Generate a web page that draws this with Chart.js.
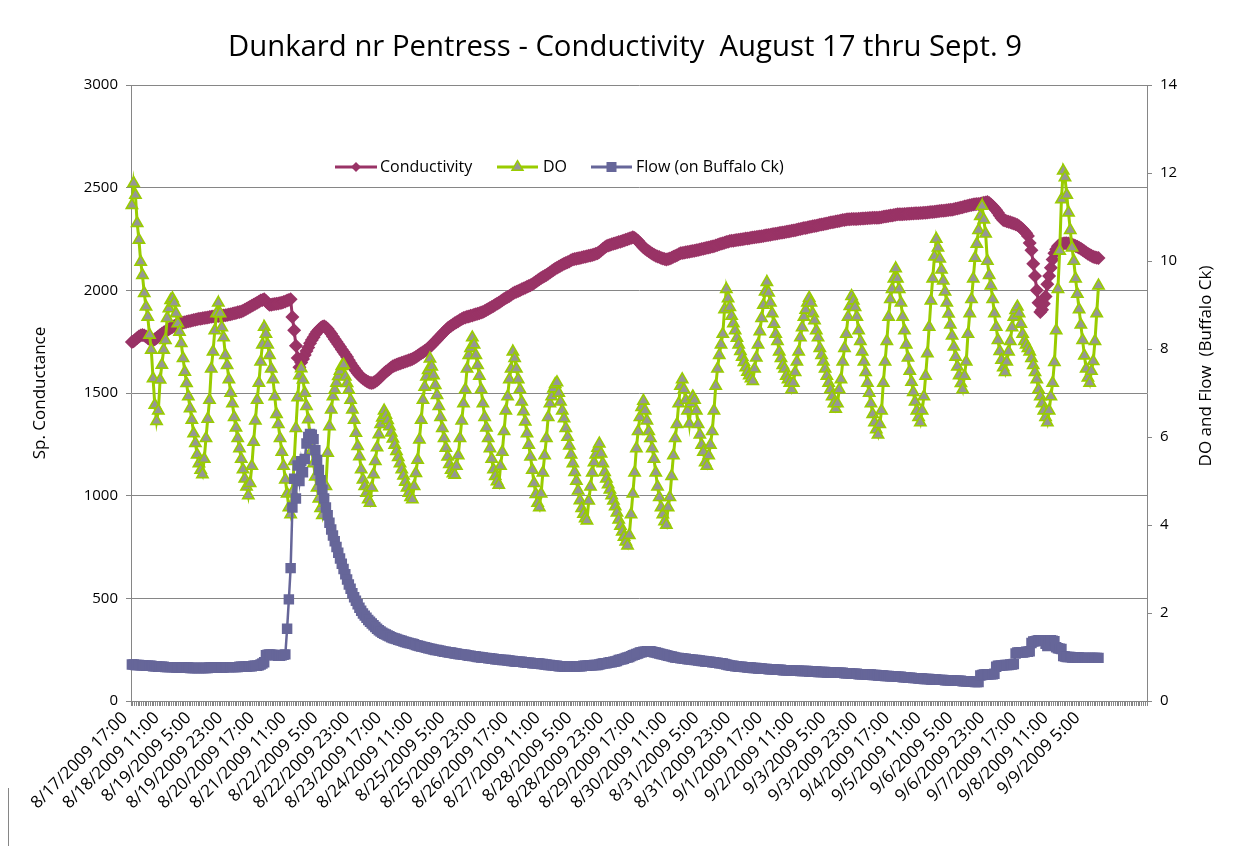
<!DOCTYPE html>
<html>
<head>
<meta charset="utf-8">
<script src="https://cdn.jsdelivr.net/npm/chart.js@4.4.1/dist/chart.umd.min.js"></script>
<style>
  html, body { margin: 0; padding: 0; background: #ffffff; }
  #c { display: block; }
</style>
</head>
<body>
<canvas id="c" width="1238" height="846"></canvas>
<script>
// ---- Data (hourly readings starting 8/17/2009 17:00) ----
const startTime = { year: 2009, month: 8, day: 17, hour: 17 };
const categoryCount = 576;           // hourly categories on the axis
const labelEvery = 18;               // a label every 18 hours
const lastLabelIndex = 540;          // 9/9/2009 5:00

const conductivity = [
  1748,1752,1760,1768,1775,1780,1782,1780,1775,1768,1762,1758,1757,
  1762,1768,1775,1782,1788,1795,1800,1806,1812,1817,1822,1826,1831,
  1834,1837,1840,1843,1845,1847,1849,1851,1853,1855,
  1857,1859,1861,1862,1864,1865,1867,1868,1870,
  1871,1872,1873,1874,1875,1876,1877,1878,1879,1880,
  1882,1884,1886,1888,1890,1893,1895,1897,1900,
  1905,1910,1915,1920,1925,1930,
  1935,1940,1945,1950,1953,1956,
  1948,1938,1930,
  1930,1932,1933,1935,1936,1938,
  1940,1943,1946,1950,1953,1956,
  1870,1805,1730,1670,1625,
  1648,1665,1685,1705,1722,1742,1758,1772,1786,1798,1808,1817,1823,
  1825,1820,1812,1800,1788,1775,1762,1750,1738,1725,1712,1700,
  1688,1675,1660,1645,1632,1620,1608,1597,1587,1578,1571,1565,
  1558,1553,1550,1549,1551,1556,1562,1570,1578,1588,
  1596,1603,1610,1617,1624,1630,
  1634,1638,1641,1644,1647,1650,1653,1656,1659,1662,1665,
  1670,1675,1681,1687,1693,1699,1705,1711,1718,1725,
  1734,1743,1752,1761,1770,1779,1788,1797,1806,1815,
  1822,1828,1834,1840,1845,1850,1855,1860,1865,
  1868,1871,1873,1876,1878,1881,1884,1886,1889,1892,1895,
  1899,1904,1909,1914,1919,1924,1930,1935,
  1940,1946,1952,1958,1963,1968,1973,1979,1985,
  1989,1993,1997,2001,2005,2009,2013,2017,2021,2025,
  2030,2036,2042,2048,2054,2060,2065,2070,2075,
  2081,2087,2093,2099,2105,2110,
  2115,2120,2125,2129,2133,2137,2141,2146,2150,
  2152,2154,2156,2158,2160,2162,2164,2166,2168,2170,2172,2175,2178,2180,
  2187,2194,2201,2208,2215,
  2218,2221,2224,2227,2229,2232,2235,2237,2240,
  2243,2246,2249,2252,2255,2258,
  2255,2248,2240,2230,2220,2210,
  2203,2196,2190,2184,2178,2173,2169,2165,
  2162,2158,2155,2152,2150,
  2152,2155,2159,2163,2167,2171,2176,2180,
  2182,2183,2185,2187,2188,2190,2192,2193,2195,
  2197,2199,2201,2203,2205,2207,2209,2211,2213,2215,
  2218,2221,2224,2227,2229,2232,2235,2237,2240,
  2241,2242,2244,2245,2246,2248,2249,2250,2252,2253,2254,2256,2257,2258,2260,2261,2262,2264,2265,
  2267,2268,2270,2271,2273,2274,2276,2277,2279,2280,2282,2283,2285,2286,2288,2290,2291,2293,2295,
  2297,2299,2301,2303,2304,2306,2308,2310,2312,2313,2315,2317,2319,2321,2322,2324,2326,2328,2330,
  2332,2333,2335,2337,2338,2340,2342,2343,2345,
  2346,2346,2347,2347,2348,2348,2349,2349,2350,2350,2351,2351,2352,2352,2353,2353,2354,2354,2355,
  2356,2358,2359,2361,2362,2364,2365,2367,2368,2370,
  2370,2371,2371,2372,2372,2373,2373,2374,2374,2375,2375,2376,2377,2377,2378,2378,2379,2380,
  2381,2382,2383,2384,2385,2386,2387,2388,2389,2390,2391,2392,2393,2395,2397,2399,2401,2403,2405,2408,2410,
  2412,2414,2416,2418,2419,2420,2421,2422,2424,2426,2428,2430,
  2425,2418,2410,2400,2390,2378,2365,2352,2343,
  2340,2337,2334,2331,2328,2325,2322,2318,2312,2305,2297,2288,2278,2265,
  2230,2195,2130,2070,2000,1940,1895,
  1905,1935,1970,2030,2070,2110,2150,2180,2200,2215,2222,2226,
  2228,2229,2229,2228,2226,2223,2220,2216,2212,2207,2202,2196,2190,2184,2178,2173,2168,2164,2161,2159,2158
];

const dissolvedOxygen = [
  11.27,11.77,11.5,
  10.86,10.48,9.98,9.68,9.27,8.96,8.73,8.32,7.98,7.33,6.73,6.36,
  6.6,
  7.3,7.64,7.98,8.2,8.7,8.92,9.11,9.15,9.05,
  8.81,8.58,8.39,8.13,7.79,7.48,7.22,6.92,6.65,6.39,6.08,5.86,5.6,5.4,5.25,5.15,
  5.5,5.97,6.41,6.84,7.55,7.94,8.42,8.81,9.05,
  8.81,8.49,8.26,7.86,7.63,7.31,7.0,6.76,6.45,6.21,5.97,5.74,5.5,5.26,5.05,4.87,4.67,
  4.95,5.34,5.89,6.37,6.84,7.23,7.71,8.1,8.5,
  8.34,8.1,7.86,7.55,7.31,6.92,6.52,6.29,5.97,5.66,5.34,5.03,4.71,4.4,4.24,
  4.75,5.45,6.2,6.9,7.4,7.56,
  7.3,7.0,6.7,6.4,6.05,5.7,5.4,5.1,4.85,4.6,4.38,4.22,
  4.5,4.88,5.64,6.24,6.62,6.92,7.07,7.23,7.38,7.5,7.61,7.64,
  7.37,7.22,7.07,6.84,6.62,6.39,6.09,5.79,5.56,5.26,5.03,4.88,4.73,4.58,4.5,
  4.85,5.15,5.45,5.76,6.06,6.29,6.44,6.6,
  6.5,6.38,6.24,6.1,5.96,5.82,5.68,5.54,5.4,5.26,5.12,4.98,4.85,4.73,4.63,4.58,
  4.88,5.18,5.48,5.94,6.39,6.84,7.14,7.37,7.52,7.78,
  7.6,7.4,7.18,6.95,6.7,6.45,6.2,5.97,5.75,5.55,5.38,5.25,5.17,5.14,
  5.34,5.58,5.97,6.37,6.76,7.08,7.55,7.86,8.02,8.26,
  8.1,7.86,7.63,7.39,7.08,6.76,6.45,6.21,5.97,5.74,5.5,5.26,5.11,4.99,4.91,
  5.34,5.66,6.13,6.6,6.92,7.31,7.55,7.94,
  7.79,7.55,7.31,7.08,6.8,6.58,6.35,6.08,5.82,5.55,5.25,4.95,4.7,4.5,4.4,
  4.71,5.19,5.58,5.97,6.45,6.76,6.92,7.1,7.2,7.24,
  7.0,6.8,6.6,6.42,6.2,6.0,5.8,5.6,5.4,5.2,5.0,4.78,4.56,4.38,4.25,4.15,4.1,
  4.55,4.87,5.19,5.42,5.6,5.75,5.85,
  5.62,5.4,5.2,5.05,4.92,4.8,4.67,4.55,4.42,4.28,4.12,3.98,3.85,3.73,3.62,3.53,
  3.77,4.24,4.71,5.19,5.74,6.13,6.45,6.68,6.82,
  6.6,6.37,6.13,5.97,5.74,5.5,5.19,4.87,4.63,4.4,4.24,4.08,4.0,
  4.4,4.63,5.11,5.58,5.97,6.29,6.76,7.16,7.31,
  7.08,6.84,6.6,6.3,6.76,6.92,6.84,6.6,6.29,6.05,5.82,5.66,5.42,5.34,
  5.58,5.82,6.13,6.6,7.16,7.55,7.86,8.1,8.34,8.9,9.36,
  9.15,8.95,8.75,8.58,8.42,8.25,8.1,7.95,7.82,7.7,7.58,7.48,7.4,7.33,7.27,
  7.55,7.8,8.1,8.4,8.7,9.0,9.3,9.52,
  9.28,9.05,8.81,8.57,8.34,8.18,7.94,7.79,7.63,7.55,7.39,7.31,7.23,7.08,
  7.23,7.47,7.71,7.94,8.26,8.49,8.73,8.89,9.05,9.16,
  9.05,8.81,8.65,8.42,8.26,8.02,7.86,7.71,7.55,7.39,7.23,7.08,6.92,6.76,6.64,
  6.76,7.08,7.31,7.71,8.02,8.34,8.73,8.97,9.2,
  9.1,8.95,8.73,8.42,8.18,7.94,7.71,7.47,7.23,7.0,6.76,6.52,6.33,6.17,6.05,
  6.29,6.6,7.23,7.71,8.18,8.73,9.13,9.36,9.6,9.83,
  9.6,9.36,9.05,8.73,8.42,8.1,7.8,7.5,7.25,7.02,6.8,6.6,6.45,6.33,
  6.6,6.92,7.39,7.9,8.5,9.1,9.6,10.1,10.5,
  10.3,10.05,9.8,9.55,9.3,9.05,8.8,8.55,8.3,8.05,7.82,7.6,7.4,7.22,7.08,
  7.39,7.71,8.34,8.81,9.13,9.6,10.07,10.39,10.7,11.02,11.25,
  10.94,10.62,10.0,9.68,9.44,9.13,8.81,8.5,8.2,7.95,7.75,7.58,7.47,
  7.71,7.94,8.18,8.49,8.73,8.88,8.96,
  8.81,8.57,8.34,8.18,8.1,8.02,7.94,7.79,7.63,7.47,7.31,7.08,6.92,6.76,6.6,6.45,6.33,
  6.6,6.92,7.23,7.7,8.42,9.36,10.23,11.4,12.05,11.9,
  11.5,11.1,10.7,10.3,10.0,9.6,9.25,8.9,8.55,8.2,7.85,7.55,7.35,7.23,
  7.5,7.72,8.18,8.81,9.44
];

const flow = [
  0.83,0.83,0.82,0.82,0.82,0.81,0.81,0.81,0.8,0.8,0.8,0.8,0.79,0.79,0.79,0.78,0.78,0.78,0.78,0.77,0.77,
  0.77,0.77,0.77,0.77,0.76,0.76,0.76,0.76,0.76,0.76,
  0.76,0.76,0.75,0.75,0.75,0.75,0.75,0.75,0.75,0.75,
  0.75,0.75,0.75,0.76,0.76,0.76,0.76,0.76,0.76,0.76,
  0.76,0.76,0.77,0.77,0.77,0.77,0.77,0.77,0.77,0.77,
  0.78,0.78,0.78,0.78,0.78,0.79,0.79,0.79,0.8,0.8,0.8,0.81,
  0.83,0.85,0.88,
  1.04,1.05,1.06,1.05,1.05,1.04,1.04,1.03,1.03,1.04,1.05,1.06,
  1.64,2.31,3.02,4.4,
  5.05,4.6,5.35,5.0,5.45,5.2,5.5,5.85,6.0,6.07,6.05,5.95,5.7,
  5.48,5.25,5.02,4.8,4.6,4.4,4.22,4.05,3.9,3.76,3.63,3.5,
  3.37,3.24,3.12,3.0,2.88,2.76,2.65,2.55,2.45,2.36,2.28,2.2,2.12,2.05,
  1.99,1.94,1.89,1.84,1.8,1.76,1.72,1.68,1.64,1.61,1.58,1.55,
  1.53,1.51,1.49,1.47,1.45,1.43,1.42,1.41,1.39,1.38,
  1.37,1.35,1.34,1.33,1.32,1.31,1.3,1.29,1.27,1.26,
  1.25,1.24,1.23,1.22,1.21,1.2,1.19,1.18,1.17,
  1.16,1.16,1.15,1.14,1.13,1.12,1.12,1.11,1.1,1.1,1.09,1.08,1.08,1.07,1.06,1.06,1.05,1.05,1.04,
  1.03,1.03,1.02,1.02,1.01,1.0,1.0,0.99,0.99,0.98,0.98,0.97,0.97,0.96,0.96,0.95,0.95,0.94,0.94,0.93,
  0.93,0.93,0.92,0.92,0.91,0.91,0.9,0.9,0.89,0.89,0.89,0.88,0.88,0.87,0.87,0.87,0.86,0.86,0.86,0.85,0.85,
  0.84,0.84,0.83,0.83,0.82,0.82,0.81,0.81,0.8,0.8,0.79,0.79,0.79,0.78,0.78,0.78,0.78,0.78,0.78,0.78,0.79,0.79,0.79,0.79,0.8,0.8,
  0.8,0.81,0.81,0.81,0.82,0.82,0.82,0.83,0.84,0.85,0.86,0.86,0.87,0.88,0.88,0.89,0.9,
  0.91,0.93,0.94,0.95,0.96,0.98,0.99,1.0,1.02,1.04,1.05,1.07,1.08,1.1,1.11,1.12,1.12,1.13,1.13,1.13,
  1.12,1.11,1.1,1.09,1.08,1.07,1.06,1.05,1.04,1.03,1.02,1.01,1.0,0.99,0.98,0.98,
  0.97,0.97,0.96,0.96,0.95,0.95,0.94,0.94,0.93,0.93,0.92,0.92,0.91,0.91,0.9,0.9,0.89,0.89,0.88,0.88,0.87,0.87,0.86,0.86,0.85,0.84,0.83,0.82,0.81,0.8,
  0.8,0.79,0.79,0.78,0.78,0.78,0.77,0.77,0.76,0.76,0.76,0.75,0.75,0.75,0.74,0.74,0.74,0.73,0.73,0.73,0.72,0.72,0.72,0.72,0.71,0.71,0.71,0.71,0.7,0.7,
  0.7,0.7,0.7,0.69,0.69,0.69,0.69,0.69,0.68,0.68,
  0.68,0.68,0.68,0.67,0.67,0.67,0.67,0.67,0.66,0.66,
  0.66,0.66,0.66,0.65,0.65,0.65,0.65,0.65,0.64,0.64,
  0.64,0.64,0.64,0.63,0.63,0.63,0.63,0.62,0.62,0.62,
  0.62,0.61,0.61,0.61,0.61,0.6,0.6,0.6,0.6,0.59,
  0.59,0.59,0.58,0.58,0.58,0.58,0.57,0.57,0.57,0.56,
  0.56,0.56,0.56,0.55,0.55,0.55,0.54,0.54,0.54,0.53,
  0.53,0.53,0.52,0.52,0.52,0.51,0.51,0.51,0.5,0.5,
  0.5,0.5,0.49,0.49,0.49,0.49,0.48,0.48,0.48,0.48,
  0.47,0.47,0.47,0.47,0.47,0.46,0.46,0.46,0.46,0.46,
  0.45,0.45,0.45,0.45,0.44,0.44,0.44,0.43,0.43,0.43,
  0.58,0.59,0.6,0.6,0.6,0.61,0.61,0.61,0.62,
  0.78,0.8,0.8,0.81,0.81,0.82,0.82,0.82,0.83,0.83,0.84,
  1.08,1.1,1.1,1.11,1.1,1.11,1.12,1.12,1.13,
  1.32,1.35,1.36,1.37,1.38,1.38,1.37,1.38,1.3,1.25,1.36,1.38,1.37,1.36,
  1.22,1.2,1.19,1.18,
  1.02,1.01,1.0,1.0,1.0,0.99,0.99,0.99,0.99,0.99,0.98,0.98,0.98,0.98,0.98,0.98,0.98,0.98,0.98,0.98,0.98
];

const leftTicks = { min: 0, max: 3000, step: 500 };
const rightTicks = { min: 0, max: 14, step: 2 };
const titleText = 'Dunkard nr Pentress - Conductivity  August 17 thru Sept. 9';
const leftTitle = 'Sp. Conductance';
const rightTitle = 'DO and Flow  (Buffalo Ck)';
const seriesNames = ['Conductivity', 'DO', 'Flow (on Buffalo Ck)'];

// ---- categories (hourly time stamps) ----
const categories = [];
for (let i = 0; i < categoryCount; i++) {
  const d = new Date(Date.UTC(startTime.year, startTime.month - 1, startTime.day, startTime.hour + i));
  categories.push((d.getUTCMonth() + 1) + '/' + d.getUTCDate() + '/' + d.getUTCFullYear() + ' ' + d.getUTCHours() + ':00');
}

// ---- styles ----
const FONT = '"Open Sans", "Noto Sans", sans-serif';
const C_COND = '#993366', C_DO = '#99CC00', C_DOFILL = '#969696', C_FLOW = '#666699';
const AXIS = '#868686';

function drawMarker(ctx, kind, x, y) {
  ctx.save();
  if (kind === 'diamond') {
    ctx.fillStyle = C_COND;
    ctx.beginPath(); ctx.moveTo(x, y - 5); ctx.lineTo(x + 5, y); ctx.lineTo(x, y + 5); ctx.lineTo(x - 5, y); ctx.closePath(); ctx.fill();
  } else if (kind === 'triangle') {
    ctx.fillStyle = C_DOFILL; ctx.strokeStyle = C_DO; ctx.lineWidth = 1.5;
    ctx.beginPath(); ctx.moveTo(x, y - 6.3); ctx.lineTo(x + 5.5, y + 3.2); ctx.lineTo(x - 5.5, y + 3.2); ctx.closePath(); ctx.fill(); ctx.stroke();
  } else {
    ctx.fillStyle = C_FLOW; ctx.fillRect(x - 5, y - 5, 10, 10);
  }
  ctx.restore();
}

const decorPlugin = {
  id: 'decor',
  afterDraw(chart) {
    const ctx = chart.ctx;
    const area = chart.chartArea;
    ctx.save();
    // partial outer frame line visible at the lower left of the reference
    ctx.strokeStyle = '#868686'; ctx.lineWidth = 1;
    ctx.beginPath(); ctx.moveTo(8.5, 788); ctx.lineTo(8.5, 846); ctx.stroke();

    ctx.fillStyle = '#000';
    // title, fitted to the reference width
    ctx.font = '100px ' + FONT;
    const w100 = ctx.measureText(titleText).width;
    const ts = 794 / w100 * 100;
    ctx.font = ts.toFixed(2) + 'px ' + FONT;
    ctx.textAlign = 'center'; ctx.textBaseline = 'middle';
    ctx.fillText(titleText, 625, 48);

    // axis titles
    ctx.font = '17px ' + FONT;
    ctx.save(); ctx.translate(40, (area.top + area.bottom) / 2); ctx.rotate(-Math.PI / 2);
    ctx.fillText(leftTitle, 0, 0); ctx.restore();
    ctx.save(); ctx.translate(1206, 366); ctx.rotate(-Math.PI / 2);
    ctx.fillText(rightTitle, 0, 0); ctx.restore();

    // legend
    const ly = 167;
    ctx.font = '16px ' + FONT;
    const items = [
      { x0: 335, x1: 377, color: C_COND, marker: 'diamond', tx: 380, text: seriesNames[0] },
      { x0: 497, x1: 538, color: C_DO, marker: 'triangle', tx: 543, text: seriesNames[1] },
      { x0: 591, x1: 632, color: C_FLOW, marker: 'square', tx: 636, text: seriesNames[2] }
    ];
    ctx.textAlign = 'left';
    items.forEach(it => {
      ctx.strokeStyle = it.color; ctx.lineWidth = 3;
      ctx.beginPath(); ctx.moveTo(it.x0, ly); ctx.lineTo(it.x1, ly); ctx.stroke();
      drawMarker(ctx, it.marker, (it.x0 + it.x1) / 2, ly);
      ctx.fillStyle = '#000';
      ctx.fillText(it.text, it.tx, ly);
    });
    ctx.restore();
  }
};

function build() {
  new Chart(document.getElementById('c'), {
    type: 'line',
    data: {
      labels: categories,
      datasets: [
        { label: seriesNames[0], data: conductivity, yAxisID: 'y', order: 3,
          borderColor: C_COND, backgroundColor: C_COND, borderWidth: 3,
          pointStyle: 'rectRot', pointRadius: 7, pointBorderWidth: 0,
          pointBackgroundColor: C_COND, pointBorderColor: C_COND, tension: 0 },
        { label: seriesNames[1], data: dissolvedOxygen, yAxisID: 'y1', order: 2,
          borderColor: C_DO, backgroundColor: C_DOFILL, borderWidth: 3,
          pointStyle: 'triangle', pointRadius: 6.5, pointBorderWidth: 1.6,
          pointBackgroundColor: C_DOFILL, pointBorderColor: C_DO, tension: 0 },
        { label: seriesNames[2], data: flow, yAxisID: 'y1', order: 1,
          borderColor: C_FLOW, backgroundColor: C_FLOW, borderWidth: 2.5,
          pointStyle: 'rect', pointRadius: 7.4, pointBorderWidth: 0,
          pointBackgroundColor: C_FLOW, pointBorderColor: C_FLOW, tension: 0 }
      ]
    },
    options: {
      responsive: false,
      animation: false,
      devicePixelRatio: 1,
      events: [],
      layout: { padding: { top: 85, left: 0, right: 0, bottom: 0 } },
      plugins: { legend: { display: false }, title: { display: false }, tooltip: { enabled: false } },
      scales: {
        x: {
          type: 'category',
          offset: true,
          grid: { offset: true, drawOnChartArea: false, drawTicks: true, tickLength: 5, color: AXIS, lineWidth: 1 },
          border: { display: true, color: AXIS, width: 1 },
          ticks: {
            autoSkip: false, maxRotation: 45, minRotation: 45, padding: 2, labelOffset: -7,
            color: '#000', font: { family: FONT, size: 17 },
            callback: function (v, i) { return (i % labelEvery === 0 && i <= lastLabelIndex) ? this.getLabelForValue(v) : ''; }
          },
          afterFit(s) { s.height = 145; }
        },
        y: {
          position: 'left', min: leftTicks.min, max: leftTicks.max,
          ticks: { stepSize: leftTicks.step, color: '#000', font: { family: FONT, size: 15 }, padding: 8,
                   callback: v => String(v) },
          grid: { color: AXIS, lineWidth: 1, tickLength: 5, drawTicks: true },
          border: { display: true, color: AXIS, width: 1 },
          afterFit(s) { s.width = 131; }
        },
        y1: {
          position: 'right', min: rightTicks.min, max: rightTicks.max,
          ticks: { stepSize: rightTicks.step, color: '#000', font: { family: FONT, size: 15 }, padding: 8,
                   callback: v => String(v) },
          grid: { drawOnChartArea: false, color: AXIS, tickLength: 5, drawTicks: true },
          border: { display: true, color: AXIS, width: 1 },
          afterFit(s) { s.width = 91; }
        }
      }
    },
    plugins: [decorPlugin]
  });
}

if (document.fonts && document.fonts.load) {
  Promise.all([document.fonts.load('15px "Open Sans"'), document.fonts.load('26px "Open Sans"')])
    .then(build, build);
} else { build(); }
</script>
</body>
</html>
